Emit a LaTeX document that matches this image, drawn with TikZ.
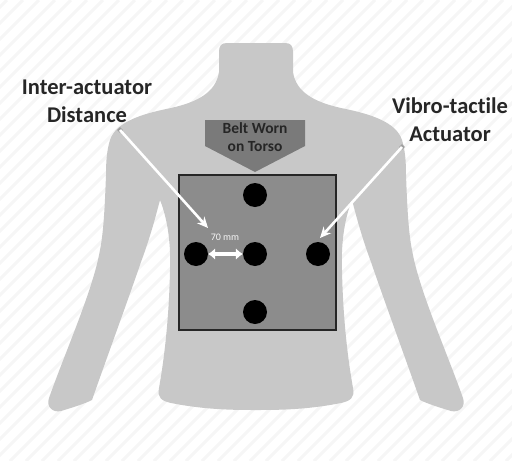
\documentclass[tikz,border=0pt]{standalone}
\usepackage{fontspec}
\setmainfont{Carlito}[Ligatures={NoCommon}]
\usetikzlibrary{arrows.meta,shapes.geometric}
\definecolor{skin}{RGB}{200,200,200}
\definecolor{beltgray}{RGB}{140,140,140}
\definecolor{tag}{RGB}{122,122,122}
\definecolor{ink}{RGB}{38,38,38}
\begin{document}
\begin{tikzpicture}[x=1pt,y=-1pt,
  callout/.style={font=\fontsize{22.5}{28}\selectfont\bfseries, text=ink, align=center, inner sep=0pt},
  actuator/.style={circle, fill=black, minimum size=24pt, inner sep=0pt},
  pointer/.style={white, line width=2.6pt, -{Stealth[length=11pt,width=10pt]}},
  anchorpin/.style={diamond, fill=gray!75, minimum size=6pt, inner sep=0pt},
  spacing/.style={white, line width=4.5pt, {Latex[length=7pt,width=12pt]}-{Latex[length=7pt,width=12pt]}}]
\useasboundingbox (0,0) rectangle (512,461);
% faint diagonal background hatching
\begin{scope}
  \clip (0,0) rectangle (512,461);
  \foreach \k in {-470,-454,...,520}
    \draw[gray!7, line width=3pt] (\k,461) -- (\k+461,0);
\end{scope}
% body silhouette (neck, shoulders, arms, torso)
\begin{scope}[shift={(256,0)}]
\fill[skin]
  (-29,43) -- (29,43) .. controls (35,43) and (37,46) .. (37,52) -- (37,72)
  .. controls (40,92) and (58,102) .. (85,108)
  .. controls (115,114) and (140,122) .. (146,140)
  .. controls (149,150) and (150,160) .. (150,175)
  .. controls (151,200) and (152,230) .. (156,250)
  .. controls (163,290) and (190,350) .. (207,398)
  .. controls (210,407) and (203,413) .. (195,411)
  .. controls (185,408) and (172,404) .. (164,400)
  .. controls (150,360) and (128,300) .. (115,262)
  .. controls (105,235) and (100,215) .. (96,200)
  .. controls (88,220) and (85,245) .. (86,270)
  .. controls (87,320) and (92,360) .. (97,388)
  .. controls (99,398) and (94,401) .. (85,403)
  .. controls (50,410) and (20,410) .. (0,410)
  .. controls (-20,410) and (-50,410) .. (-85,403)
  .. controls (-94,401) and (-99,398) .. (-97,388)
  .. controls (-92,360) and (-87,320) .. (-86,270)
  .. controls (-85,245) and (-88,220) .. (-96,200)
  .. controls (-100,215) and (-105,235) .. (-115,262)
  .. controls (-128,300) and (-150,360) .. (-164,400)
  .. controls (-172,404) and (-185,408) .. (-195,411)
  .. controls (-203,413) and (-210,407) .. (-207,398)
  .. controls (-190,350) and (-163,290) .. (-156,250)
  .. controls (-152,230) and (-151,200) .. (-150,175)
  .. controls (-150,160) and (-149,150) .. (-146,140)
  .. controls (-140,122) and (-115,114) .. (-85,108)
  .. controls (-58,102) and (-40,92) .. (-37,72)
  -- (-37,52) .. controls (-37,46) and (-35,43) .. (-29,43) -- cycle;
\end{scope}
% downward tag above the belt
\fill[tag] (205,120) -- (305,120) -- (305,146) -- (255,172) -- (205,146) -- cycle;
\node[font=\fontsize{15.5}{18}\selectfont\bfseries, text=ink, align=center, inner sep=0pt]
  (beltlabel) at (255,137) {Belt Worn\\on Torso};
% belt panel
\node[draw=ink, line width=1.4pt, fill=beltgray, minimum width=157pt, minimum height=155pt, inner sep=0pt]
  (belt) at (257.5,252.5) {};
% actuators
\node[actuator] (atop)   at (255,195) {};
\node[actuator] (aleft)  at (196,254) {};
\node[actuator] (amid)   at (255,254) {};
\node[actuator] (aright) at (318,254) {};
\node[actuator] (abot)   at (255,312) {};
% spacing between neighbouring actuators
\draw[spacing] (aleft.east) -- (amid.west);
\node[font=\fontsize{10}{11}\selectfont, text=white!92!gray, inner sep=0pt] (gap) at (225,237) {70 mm};
% callout labels
\node[callout] (interlab) at (87,101) {Inter-actuator\\Distance};
\node[callout] (vtlab) at (450,120) {Vibro-tactile\\Actuator};
\node[anchorpin] (lsrc) at (120,130) {};
\node[anchorpin] (rsrc) at (402,147) {};
\coordinate (ltip) at (208,228);
\coordinate (rtip) at (320,238);
\draw[pointer] (lsrc.center) -- (ltip);
\draw[pointer] (rsrc.center) -- (rtip);
\end{tikzpicture}
\end{document}
